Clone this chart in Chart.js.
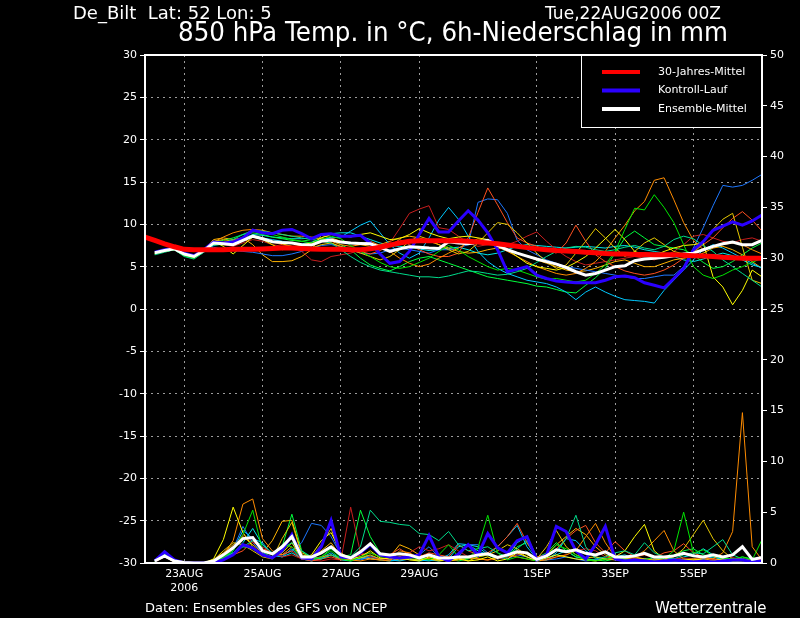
<!DOCTYPE html>
<html>
<head>
<meta charset="utf-8">
<title>De_Bilt 850 hPa Ensemble</title>
<script src="https://cdn.jsdelivr.net/npm/chart.js@4.4.1/dist/chart.umd.min.js"></script>
<style>
  html, body { margin: 0; padding: 0; background: #000; }
  #wrap { position: relative; width: 800px; height: 618px; }
</style>
</head>
<body>
<div id="wrap"><canvas id="ensChart" width="800" height="618"></canvas></div>
<script>
// x = forecast step in 6h units, 0 = Tue 22AUG2006 00Z
const xTickSteps = [4, 12, 20, 28, 40, 48, 56];
const xTickLabels = [["23AUG", "2006"], "25AUG", "27AUG", "29AUG", "1SEP", "3SEP", "5SEP"];
const legendLabels = ["30-Jahres-Mittel", "Kontroll-Lauf", "Ensemble-Mittel"];

// 30-year climatology, steps 0..63
const tempClim = [8.5,8.1,7.7,7.35,7.05,7.0,7.0,7.0,7.0,7.05, 7.05,7.05,7.1,7.15,7.2,7.2,7.15,7.1,7.05,7.05,
  7.05,7.0,7.0,7.1,7.3,7.55,7.8,8.0,8.05,8.05, 8.05,8.05,8.05,8.0,7.9,7.8,7.7,7.55,7.4,7.25,
  7.1,7.0,6.9,6.85,6.8,6.7,6.65,6.55,6.5,6.5, 6.45,6.45,6.4,6.4,6.4,6.35,6.3,6.25,6.2,6.1,
  6.05,6.0,6.0,6.0];

// everything below: steps 1..63
const tempMean = [6.65,6.9,7.1,6.5,6.2,6.9,7.8,7.7,7.6,8.1, 8.6,8.3,7.95,7.85,7.8,7.6,7.55,8.0,8.15,7.9,
  7.8,7.75,7.7,7.3,6.8,7.1,7.35,7.3,7.2,7.15, 7.95,7.8,7.7,7.9,8.1,7.5,7.0,6.6,6.25,5.9,
  5.6,5.3,4.9,4.4,4.0,4.2,4.6,5.0,5.1,5.7, 5.9,6.0,6.1,6.3,6.5,6.6,7.0,7.4,7.7,7.9, 7.6,7.6,8.1];
const tempControl = [6.7,7.0,7.2,6.6,6.3,7.0,7.9,7.8,7.9,8.4, 9.3,9.0,8.9,9.3,9.4,8.9,8.3,8.8,8.9,8.6,
  8.6,8.7,7.8,6.5,5.4,5.6,6.8,8.8,10.7,9.1, 9.1,10.4,11.6,10.5,9.0,7.0,4.4,4.7,5.0,4.0,
  3.6,3.3,3.2,3.1,3.1,3.1,3.4,3.8,3.9,3.7, 3.1,2.8,2.5,3.6,4.8,7.0,7.95,9.3,9.8,10.3, 9.9,10.4,11.1];

const tempM01 = [6.5,6.8,7.0,6.3,6.0,6.8,7.6,7.6,7.8,8.5,9.2,9.0,8.8,8.5,8.2,8.0,
  7.8,8.2,8.6,8.3,7.5,6.8,6.2,5.5,5.0,4.8,5.0,5.5,6.0,6.8,
  7.5,7.0,6.2,5.6,5.0,4.6,4.8,4.6,4.2,3.8,3.5,3.6,3.4,3.2,3.4,
  4.2,5.2,6.8,9.4,11.9,11.7,13.5,12.0,10.2,7.6,5.0,4.0,3.6,4.0,4.6,5.0,5.5,6.0];
const tempM02 = [6.4,6.7,7.0,6.2,5.9,6.7,7.6,7.8,8.2,8.8,9.3,9.2,9.0,8.8,8.6,8.4,
  8.2,8.0,7.8,7.0,6.2,5.5,5.0,4.6,4.4,4.2,4.0,3.8,3.8,3.7,
  3.9,4.2,4.5,4.4,4.2,4.0,4.1,4.4,4.8,5.5,6.2,6.8,7.2,7.4,7.3,
  7.0,6.8,7.0,7.3,7.5,7.2,7.0,7.4,8.2,8.6,8.3,7.5,6.8,5.8,5.0,4.2,3.4,2.6];
const tempM03 = [6.6,7.0,7.2,6.6,6.3,7.1,8.0,7.4,6.5,7.5,8.5,8.2,7.6,7.0,7.2,7.6,
  7.8,8.4,8.8,8.7,8.5,8.8,9.0,8.6,8.2,8.3,8.8,9.5,9.0,8.6,
  8.3,8.5,8.6,8.4,8.2,7.6,7.0,6.2,5.4,5.0,4.8,4.6,4.9,5.5,6.2,
  7.2,8.3,9.4,8.2,6.8,6.4,6.3,6.8,7.2,7.5,7.6,7.8,3.8,2.6,0.5,2.2,4.6,3.8];
const tempM04 = [6.7,7.0,7.1,6.4,6.2,7.0,8.0,8.2,8.0,8.3,8.6,8.4,8.0,7.7,7.4,7.0,
  7.2,7.6,7.8,7.4,7.0,6.6,6.2,5.8,6.2,7.0,8.0,8.6,8.2,7.6,
  7.0,6.5,6.8,7.8,9.0,10.2,10.0,9.0,7.8,6.6,5.6,4.8,5.2,6.6,8.0,
  9.5,8.4,7.2,6.2,6.8,7.8,8.4,7.6,6.8,6.5,6.6,7.8,9.4,10.6,11.3,7.3,3.4,3.0];
const tempM05 = [6.6,6.9,7.1,6.4,6.1,6.9,7.9,8.5,9.0,9.3,9.4,9.3,9.0,8.8,8.6,8.6,
  8.5,8.3,8.0,7.6,7.4,7.6,8.0,7.5,6.8,6.0,5.4,5.0,5.3,6.0,
  6.6,7.2,7.8,8.3,8.0,7.4,6.8,6.2,5.6,5.0,4.6,4.2,4.0,4.2,4.8,
  5.6,6.8,8.4,9.9,11.6,12.7,15.2,15.5,12.9,10.2,8.1,7.0,7.3,7.6,7.8,7.6,7.0,6.5];
const tempM06 = [6.5,6.8,7.0,6.4,6.0,6.8,7.7,7.9,8.1,8.4,8.6,8.3,7.9,7.6,7.4,7.5,
  7.7,8.0,7.8,7.3,7.0,6.8,6.5,6.9,7.5,8.2,7.6,7.0,6.5,6.2,
  6.2,6.6,8.4,11.4,14.3,12.3,10.2,8.4,7.8,7.4,7.0,6.6,7.8,9.9,8.0,
  6.4,5.6,5.0,4.5,4.2,4.0,4.2,4.6,5.2,6.0,6.8,7.6,8.4,9.6,10.7,11.5,10.5,9.2];
const tempM07 = [6.6,6.9,7.1,6.5,6.2,6.9,7.8,7.6,7.4,7.8,8.2,8.0,7.6,7.4,
  7.4,6.8,5.8,5.6,6.2,6.4,6.6,7.0,7.4,7.6,7.8,9.5,11.3,11.8,12.2,9.6,9.4,
  8.6,7.8,7.4,7.6,7.8,7.6,8.0,8.6,9.1,8.0,7.0,6.2,5.6,5.2,
  5.4,5.6,5.8,6.0,6.2,6.0,5.8,6.2,6.8,7.6,8.6,8.8,8.4,8.0,7.8,8.2,8.4,8.0];
const tempM08 = [6.5,6.8,7.0,6.3,6.0,6.7,7.5,7.7,7.9,8.2,8.6,8.4,8.2,8.0,7.8,7.7,
  7.9,8.2,8.4,8.5,9.2,9.9,10.4,9.0,7.6,6.6,6.0,6.6,8.4,10.5,
  12.0,10.6,8.6,6.8,5.6,4.8,4.2,3.8,3.4,3.2,3.0,2.6,2.0,1.1,2.0,
  2.6,2.0,1.5,1.1,1.0,0.9,0.7,2.2,3.4,4.6,5.8,7.0,7.6,7.2,6.6,6.0,5.4,4.8];
const tempM09 = [6.6,6.9,7.1,6.5,6.2,6.9,7.3,7.0,6.9,6.8,6.7,6.5,6.3,6.3,6.5,6.8,
  7.2,7.5,7.6,7.4,7.0,6.6,6.5,6.6,7.0,7.2,7.0,6.8,6.6,7.0,
  7.0,7.2,7.6,12.6,13.0,12.9,11.3,8.1,7.0,6.4,5.8,5.4,5.0,4.8,4.6,
  4.4,4.2,4.0,3.8,3.6,3.6,3.8,4.0,4.0,5.0,7.2,9.6,12.2,14.6,14.4,14.6,15.2,15.9];
const tempM10 = [6.6,6.9,7.2,6.6,6.3,7.0,7.9,8.1,8.4,8.8,9.0,8.8,8.5,8.3,8.1,8.0,
  8.2,8.4,8.2,7.6,7.0,6.0,5.2,4.8,4.5,5.0,5.6,6.0,6.2,5.8,
  5.4,5.0,4.6,4.2,3.8,3.6,3.4,3.2,3.0,2.7,2.6,2.3,2.0,1.9,2.8,
  3.7,4.8,6.6,8.4,9.2,8.4,7.6,7.4,7.2,7.0,6.4,5.5,4.8,5.0,5.6,6.4,7.2,7.8];
const tempM11 = [6.6,7.0,7.2,6.6,6.3,7.0,8.2,8.4,8.2,8.4,
  7.6,6.4,5.6,5.6,5.7,6.2,7.0,
  8.7,8.4,8.0,7.8,7.6,7.4,7.6,8.0,8.4,8.6,8.4,8.0,7.6,
  7.2,6.8,6.6,6.7,7.0,7.2,7.0,6.6,6.2,5.8,5.4,5.0,4.6,4.4,4.5,
  4.8,5.2,5.6,5.8,5.4,5.0,5.0,5.4,5.8,6.0,6.2,6.6,7.2,7.4,7.0,6.4,5.6,4.8];
const tempM12 = [6.5,6.8,7.0,6.3,6.0,6.8,7.6,7.7,7.9,8.3,8.8,8.7,8.5,8.4,8.3,8.3,
  8.4,8.7,8.9,9.0,9.0,8.6,8.2,7.8,7.5,7.4,7.3,7.1,6.9,7.0,
  7.2,7.3,7.0,6.6,6.4,6.6,7.0,7.4,7.6,7.5,7.4,7.3,7.2,7.3,7.4,
  7.3,7.2,7.4,7.5,7.3,7.0,6.8,6.6,6.2,5.8,5.6,5.9,6.3,6.6,6.3,5.8,5.2,4.9];

// 6h precipitation in mm (right axis)
const precipMean = [0.2,0.7,0.2,0.05,0,0,0.2,0.8,1.5,2.4, 2.5,1.2,0.9,1.6,2.6,0.6,0.6,1.0,1.6,0.8,
  0.5,1.1,1.9,0.9,0.8,0.9,0.8,0.5,0.8,0.5, 0.5,0.6,0.6,0.8,0.9,0.55,0.8,1.1,1.0,0.35,
  0.7,1.3,1.1,1.3,0.95,0.8,1.1,0.6,0.6,0.7, 0.95,0.6,0.6,0.7,0.95,0.7,0.6,0.8,0.6,0.8, 1.6,0.35,0.55];
const precipControl = [0.2,1.1,0.3,0,0,0,0,0.3,0.8,1.8, 1.5,0.8,0.5,1.2,2.8,0.5,0.4,1.6,4.2,0.6,
  0.5,1.0,1.8,0.8,0.6,0.5,0.6,0.8,2.7,0.6, 0.2,0.9,1.8,0.8,2.9,1.5,1.0,2.2,2.6,0.3,
  0.8,3.6,3.1,1.2,0.4,1.8,3.6,0.4,0.2,0.3, 0.2,0.1,0.2,0.3,0.2,0.1,0.2,0.1,0.2,0.3, 0.3,0.1,0.2];

const precipM01 = [0.1,0.8,0.2,0,0,0,0.1,0.6,1.2,2.8, 5.2,1.2,0.4,1.8,1.6,0.5,0.3,0.6,1.2,0.4,
  0.2,0.6,1.0,0.6,0.6,0.4,0.8,0.5,0.3,0.8, 1.8,0.6,0.4,1.5,4.7,1.0,0.3,0.6,0.4,0.2,
  0.6,1.8,1.4,0.8,0.3,0.2,0.4,0.6,0.4,0.2, 0.3,0.6,0.4,1.2,5.0,1.0,1.3,0.7,0.5,0.4, 0.6,0.3,2.3];
const precipM02 = [0.2,0.9,0.2,0,0,0,0.2,0.5,1.0,1.6, 2.2,1.8,1.0,1.4,2.0,1.2,0.6,0.4,0.8,0.5,
  0.6,1.6,5.2,4.1,4.0,3.8,3.7,2.9,2.8,2.2, 3.1,1.8,1.2,1.4,1.6,1.0,0.6,1.4,2.2,0.4,
  0.6,1.2,2.4,4.7,1.6,0.4,0.6,1.0,1.2,0.8, 2.0,1.0,0.6,0.4,0.8,1.0,0.9,1.6,2.3,0.8, 0.4,0.2,0.2];
const precipM03 = [0.3,0.9,0.2,0,0,0,0.4,2.3,5.5,3.0, 1.6,0.8,0.5,1.0,2.0,0.4,0.8,2.2,3.0,1.0,
  0.4,0.6,1.2,0.5,0.4,0.6,0.3,0.2,0.6,0.3, 0.2,0.4,0.2,0.3,0.6,0.2,0.4,1.0,0.6,0.2,
  0.5,0.8,0.6,0.4,0.3,0.2,0.4,0.6,1.2,2.6, 3.8,1.2,0.4,0.2,0.3,0.4,0.3,0.2,0.4,0.2, 0.2,0.1,0.2];
const precipM04 = [0.2,0.6,0.1,0,0,0,0.3,1.2,2.0,1.8, 1.2,0.6,0.4,2.4,4.0,0.8,0.6,1.8,3.4,0.6,
  0.3,0.5,0.8,0.4,0.5,0.3,0.4,0.3,0.4,0.2, 0.3,0.5,0.2,0.6,0.8,1.2,1.8,1.4,0.8,0.4,
  1.6,3.2,1.6,0.8,0.5,0.6,0.4,0.3,0.4,0.6, 0.4,0.3,0.4,0.6,1.4,2.8,4.2,2.4,1.2,0.4, 0.3,0.2,0.2];
const precipM05 = [0.2,0.8,0.2,0,0,0,0.2,0.8,2.2,5.8, 6.3,2.4,1.2,0.8,1.6,0.6,0.4,0.6,0.8,0.4,
  0.3,0.2,0.4,0.3,0.2,1.2,1.0,0.5,0.4,0.3, 0.2,0.3,0.5,0.4,0.3,0.6,0.8,0.6,0.4,0.2,
  0.3,0.6,0.8,1.2,2.6,3.9,2.0,0.6,0.4,0.6, 1.2,2.2,3.2,1.2,0.4,0.3,0.5,0.4,1.0,3.1, 14.8,1.6,0.3];
const precipM06 = [0.1,0.6,0.1,0,0,0,0.1,0.4,0.8,1.2, 2.2,1.4,1.0,0.8,1.2,0.4,0.2,0.4,0.6,0.3,
  0.4,0.8,1.0,0.6,0.8,1.4,0.8,0.6,1.0,0.8, 0.6,1.8,1.2,0.8,1.0,1.6,2.6,3.9,2.0,0.6,
  0.8,1.4,2.4,3.2,3.7,2.0,1.0,2.1,1.2,0.6, 0.8,0.5,1.0,1.2,1.9,1.0,0.6,0.4,0.3,0.5, 0.4,0.3,0.6];
const precipM07 = [0.2,0.7,0.2,0,0,0,0.1,0.5,1.4,2.8, 2.0,1.6,1.0,0.6,0.8,0.4,0.3,0.2,0.4,0.3,
  5.5,1.0,0.6,0.4,0.3,0.6,1.0,1.6,1.2,1.4, 1.8,1.2,0.6,0.4,0.3,0.4,0.6,0.8,1.0,0.2,
  0.4,0.6,0.8,1.2,1.4,1.2,0.6,0.4,0.6,0.4, 0.3,0.4,0.3,0.4,0.5,0.4,0.6,0.3,0.2,0.4, 0.3,0.2,0.4];
const precipM08 = [0.3,1.0,0.2,0,0,0,0.2,0.6,1.2,3.2, 2.4,2.0,0.8,0.6,1.4,0.5,0.3,0.5,1.0,0.4,
  0.3,0.5,0.7,0.4,0.3,0.2,0.4,0.3,0.2,0.4, 0.8,1.9,1.8,1.2,0.8,1.6,2.6,3.7,1.6,0.4,
  0.3,1.0,2.4,2.2,1.2,0.6,0.4,0.5,0.3,0.2, 0.4,0.3,0.5,0.4,0.2,0.3,0.4,0.6,0.3,0.2, 0.4,0.3,0.5];
const precipM09 = [0.2,0.9,0.2,0,0,0,0.1,0.6,1.4,3.6, 2.0,1.0,0.6,0.8,1.2,2.0,3.9,3.7,2.6,0.8,
  0.4,0.3,0.6,0.4,0.3,0.4,0.6,0.8,1.6,0.6, 0.3,0.6,1.8,1.8,1.0,0.6,0.4,0.8,0.6,0.2,
  0.3,0.4,0.6,0.4,0.2,0.3,0.5,0.4,0.2,0.1, 0.2,0.3,0.2,0.1,0.2,0.1,0.2,0.3,0.2,0.1, 0.2,0.3,0.4];
const precipM10 = [0.2,0.8,0.2,0,0,0,0.2,0.6,1.0,1.6, 1.4,0.8,0.6,1.6,4.8,1.2,0.4,0.6,1.4,0.6,
  0.8,5.2,2.6,1.0,0.6,0.4,0.6,0.4,0.3,0.6, 0.4,0.2,0.4,0.6,0.8,0.4,0.6,1.6,2.0,0.5,
  1.0,2.0,1.2,0.6,0.4,0.3,0.2,0.4,0.6,0.3, 0.2,0.4,0.6,0.8,1.2,1.4,0.8,0.6,0.4,0.3, 0.6,0.4,0.3];
const precipM11 = [0.3,0.7,0.2,0,0,0,0.3,1.0,1.8,2.6, 1.8,1.0,2.2,4.1,4.2,1.0,0.6,1.2,2.0,0.6,
  0.4,0.6,0.4,0.3,0.6,1.8,1.4,0.8,0.6,0.4, 0.3,0.4,0.6,0.4,0.3,0.5,0.8,1.2,0.6,0.3,
  0.8,1.8,2.6,3.4,2.8,1.6,0.8,0.4,0.3,0.5, 0.4,0.3,0.2,0.4,0.3,0.2,0.3,0.4,0.3,0.2, 0.3,0.2,0.4];
const precipM12 = [0.2,0.8,0.2,0,0,0,0.1,0.4,1.0,2.0, 3.4,1.8,0.8,0.6,1.0,0.4,0.2,0.4,0.8,0.3,
  0.2,0.4,0.5,0.3,0.2,0.3,0.4,0.2,0.3,0.2, 0.4,1.6,1.8,1.6,0.8,0.4,0.6,2.0,2.6,0.6,
  0.4,0.8,1.2,0.6,0.4,0.3,0.4,0.6,0.8,0.4, 0.3,0.5,0.4,0.3,0.6,0.8,1.4,0.8,0.5,0.4, 0.3,0.4,0.5];

const memberColors = ["#00e600", "#00dc8c", "#ffff00", "#e6c800", "#ff8c00", "#ff5020",
  "#c81e1e", "#00c8ff", "#1e78ff", "#00ff3c", "#ffb400", "#00e6e6"];
const memberTemps = [tempM01, tempM02, tempM03, tempM04, tempM05, tempM06,
  tempM07, tempM08, tempM09, tempM10, tempM11, tempM12];
const memberPrecips = [precipM01, precipM02, precipM03, precipM04, precipM05, precipM06,
  precipM07, precipM08, precipM09, precipM10, precipM11, precipM12];

const climColor = "#ff0000", controlColor = "#2a00ff", meanColor = "#ffffff";

function pts(vals, start) {
  return vals.map((v, i) => ({ x: i + start, y: v }));
}
function line(vals, color, width, axis, start) {
  return {
    data: pts(vals, start === undefined ? 1 : start),
    borderColor: color,
    borderWidth: width,
    pointRadius: 0,
    tension: 0,
    fill: false,
    yAxisID: axis
  };
}

// first dataset is drawn on top
const datasets = [
  line(tempClim, climColor, 5, "y", 0),
  line(tempMean, meanColor, 3, "y"),
  line(precipMean, meanColor, 3, "y2"),
  line(tempControl, controlColor, 3, "y"),
  line(precipControl, controlColor, 3, "y2")
];
memberTemps.forEach((t, i) => datasets.push(line(t, memberColors[i], 1, "y")));
memberPrecips.forEach((p, i) => datasets.push(line(p, memberColors[i], 1, "y2")));

const decor = {
  id: "decor",
  beforeDraw(chart) {
    const ctx = chart.ctx;
    ctx.save();
    ctx.fillStyle = "#000";
    ctx.fillRect(0, 0, chart.width, chart.height);
    ctx.restore();
  },
  afterDraw(chart) {
    const ctx = chart.ctx, a = chart.chartArea;
    ctx.save();
    ctx.strokeStyle = "#fff";
    ctx.lineWidth = 2;
    ctx.strokeRect(a.left, a.top, a.right - a.left, a.bottom - a.top);

    // legend box, top right
    const bx = 581, by = a.top;
    ctx.fillStyle = "#000";
    ctx.fillRect(bx, by, a.right - bx, 72);
    ctx.lineWidth = 1;
    ctx.strokeRect(bx + 0.5, by + 0.5, a.right - bx - 1, 72);
    const lc = [climColor, controlColor, meanColor];
    ctx.font = "11px 'DejaVu Sans'";
    ctx.textBaseline = "middle";
    legendLabels.forEach((lab, i) => {
      const y = by + 17 + i * 18.5;
      ctx.strokeStyle = lc[i];
      ctx.lineWidth = 4;
      ctx.beginPath();
      ctx.moveTo(602, y);
      ctx.lineTo(640, y);
      ctx.stroke();
      ctx.fillStyle = "#fff";
      ctx.fillText(lab, 658, y, 99);
    });

    ctx.fillStyle = "#fff";
    ctx.textBaseline = "alphabetic";
    ctx.font = "18px 'DejaVu Sans'";
    ctx.fillText("De_Bilt  Lat: 52 Lon: 5", 73, 19, 205);
    ctx.fillText("Tue,22AUG2006 00Z", 545, 19, 176);
    ctx.font = "26px 'DejaVu Sans'";
    ctx.fillText("850 hPa Temp. in \u00b0C, 6h-Niederschlag in mm", 178, 41, 550);
    ctx.font = "13px 'DejaVu Sans'";
    ctx.fillText("Daten: Ensembles des GFS von NCEP", 145, 612, 263);
    ctx.font = "15px 'DejaVu Sans'";
    ctx.fillText("Wetterzentrale", 655, 613, 120);
    ctx.restore();
  }
};

const tickFont = { family: "DejaVu Sans", size: 11 };
const gridColor = "#9c9c9c";

new Chart(document.getElementById("ensChart").getContext("2d"), {
  type: "line",
  data: { datasets: datasets },
  options: {
    responsive: false,
    animation: false,
    devicePixelRatio: 1,
    layout: { padding: { top: 55, left: 0, right: 0, bottom: 0 } },
    plugins: { legend: { display: false }, tooltip: { enabled: false }, title: { display: false } },
    scales: {
      x: {
        type: "linear",
        min: 0,
        max: 63,
        afterBuildTicks: s => { s.ticks = xTickSteps.map(v => ({ value: v })); },
        afterFit: s => { s.height = 55; },
        ticks: {
          color: "#fff", font: tickFont, padding: 5, autoSkip: false, maxRotation: 0,
          callback: (v, i) => xTickLabels[i]
        },
        grid: { color: gridColor, drawTicks: false, lineWidth: 1 },
        border: { display: false, dash: [2, 4] }
      },
      y: {
        position: "left",
        min: -30,
        max: 30,
        afterFit: s => { s.width = 145; },
        ticks: { stepSize: 5, color: "#fff", font: tickFont, padding: 3 },
        grid: { color: gridColor, tickColor: "#fff", tickLength: 5, tickBorderDash: [], lineWidth: 1 },
        border: { display: false, dash: [2, 4] }
      },
      y2: {
        position: "right",
        min: 0,
        max: 50,
        afterFit: s => { s.width = 38; },
        ticks: { stepSize: 5, color: "#fff", font: tickFont, padding: 3 },
        grid: { drawOnChartArea: false, tickColor: "#fff", tickLength: 5 },
        border: { display: false }
      }
    }
  },
  plugins: [decor]
});
</script>
</body>
</html>
